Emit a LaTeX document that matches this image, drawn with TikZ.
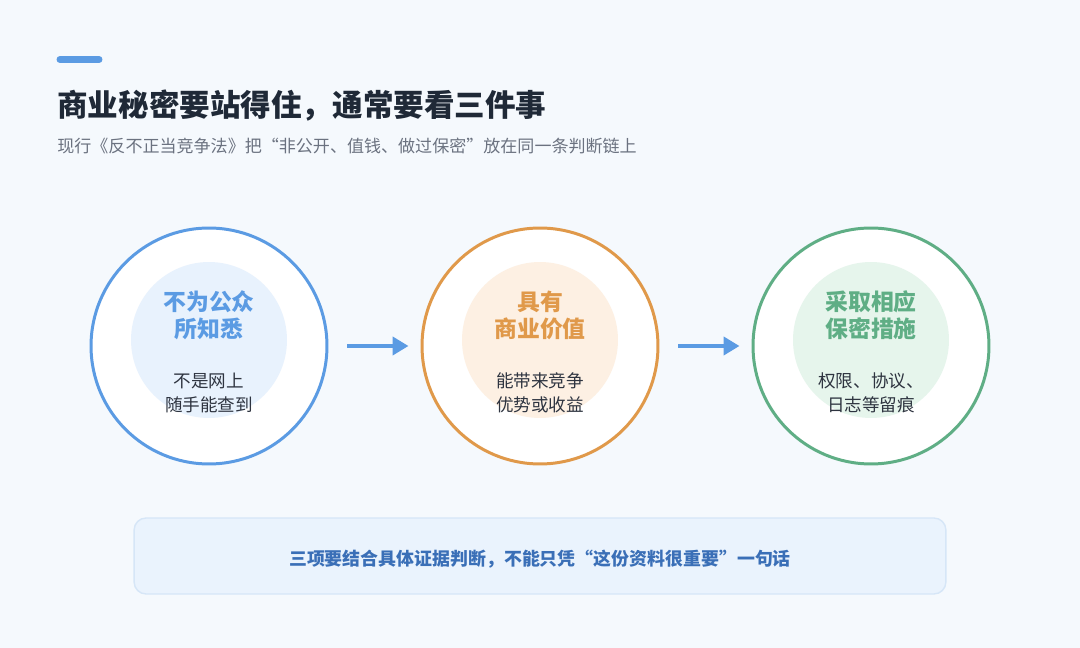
\documentclass[tikz,border=0pt]{standalone}
\usepackage{fontspec}
\setmainfont{Noto Sans CJK SC}
\usepackage{tikz}
\usetikzlibrary{arrows.meta,positioning}
\definecolor{cBg}    {RGB}{245,249,253}
\definecolor{cBlue}  {RGB}{91,155,227}
\definecolor{cOrange}{RGB}{224,153,74}
\definecolor{cGreen} {RGB}{95,174,133}
\definecolor{fBlue}  {RGB}{232,242,253}
\definecolor{fOrange}{RGB}{253,240,227}
\definecolor{fGreen} {RGB}{230,245,236}
\definecolor{cTitle} {RGB}{31,41,55}
\definecolor{cSub}   {RGB}{107,114,128}
\definecolor{cBody}  {RGB}{46,52,64}
\definecolor{cNote}  {RGB}{58,111,183}
\definecolor{cNoteBg}{RGB}{234,243,253}
\definecolor{cNoteBd}{RGB}{214,230,247}

\begin{document}
\begin{tikzpicture}[
  x=0.02cm, y=-0.02cm,
  ring/.style={circle,draw=#1,line width=1.7pt,fill=white,minimum size=4.72cm,inner sep=0pt},
  core/.style={circle,fill=#1,minimum size=3.12cm,inner sep=0pt},
  head/.style={font=\fontsize{13}{15.4}\selectfont\bfseries,text=#1,align=center},
  body/.style={font=\fontsize{10}{13.6}\selectfont,text=cBody,align=center},
  flow/.style={-{Triangle[length=3.2mm,width=3.6mm]},line width=2.6pt,draw=cBlue,
               shorten <=0.38cm,shorten >=0.24cm},
]
\useasboundingbox[fill=cBg] (0,0) rectangle (1080,648);

% header
\draw[cBlue,line width=0.14cm,line cap=round] (60,59.5) -- (99,59.5);
\node[anchor=west,inner sep=0pt,text=cTitle,font=\fontsize{17.4}{21}\selectfont\bfseries] (title) at (57,106)
  {商业秘密要站得住，通常要看三件事};
\node[anchor=west,inner sep=0pt,text=cSub,font=\fontsize{9.7}{12}\selectfont] (sub) at (57,146)
  {现行《反不正当竞争法》把“非公开、值钱、做过保密”放在同一条判断链上};

% three conditions
\node[ring=cBlue]   (k1) at (209,346) {};
\node[ring=cOrange] (k2) at (540,346) {};
\node[ring=cGreen]  (k3) at (871,346) {};
\node[core=fBlue]   (i1) at (209,340) {};
\node[core=fOrange] (i2) at (540,340) {};
\node[core=fGreen]  (i3) at (871,340) {};

\node[head=cBlue]   (h1) at (209,315) {不为公众\\所知悉};
\node[head=cOrange] (h2) at (540,315) {具有\\商业价值};
\node[head=cGreen]  (h3) at (871,315) {采取相应\\保密措施};

\node[body] (b1) at (209,393) {不是网上\\随手能查到};
\node[body] (b2) at (540,393) {能带来竞争\\优势或收益};
\node[body] (b3) at (871,393) {权限、协议、\\日志等留痕};

\draw[flow] (k1) -- (k2);
\draw[flow] (k2) -- (k3);

% note
\node[draw=cNoteBd,fill=cNoteBg,line width=0.8pt,rounded corners=0.24cm,
      minimum width=16.24cm,minimum height=1.52cm] (note) at (540,556) {};
\node[font=\fontsize{10.2}{13}\selectfont\bfseries,text=cNote] (notetext) at (540,559)
  {三项要结合具体证据判断，不能只凭“这份资料很重要”一句话};
\end{tikzpicture}
\end{document}
